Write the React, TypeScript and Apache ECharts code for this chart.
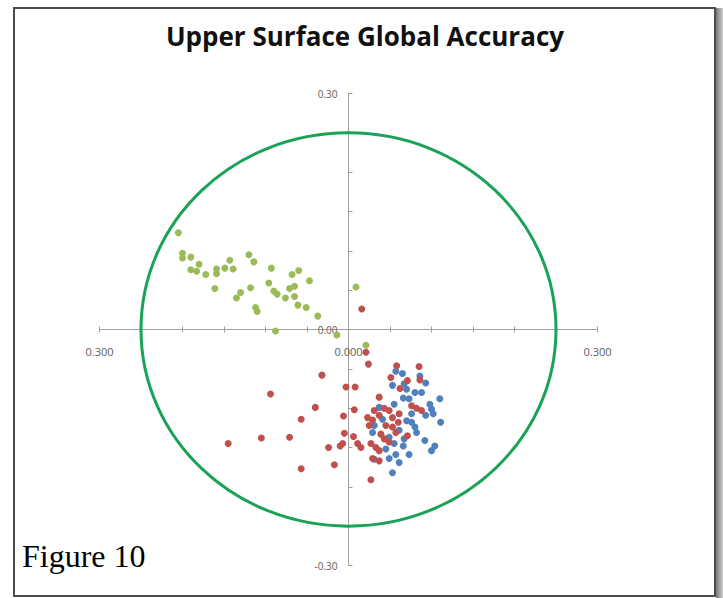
import React, { useEffect, useRef } from "react";
import * as echarts from "echarts";

const TITLE = "Upper Surface Global Accuracy";
const FIGURE_LABEL = "Figure 10";
const AXIS_MIN = -0.3;
const AXIS_MAX = 0.3;
const TICK_STEP = 0.05;
const CIRCLE_RADIUS = 0.25;
const X_LABELS: Record<string, string> = { "-0.3": "0.300", "0": "0.000", "0.3": "0.300" };
const Y_LABELS: Record<string, string> = { "-0.3": "-0.30", "0": "0.00", "0.3": "0.30" };

const blueSeries: [number, number][] = [
  [0.057, -0.053], [0.065, -0.056], [0.086, -0.059], [0.053, -0.071], [0.067, -0.069],
  [0.093, -0.068], [0.070, -0.076], [0.080, -0.080], [0.088, -0.080], [0.066, -0.087],
  [0.073, -0.088], [0.110, -0.088], [0.098, -0.095], [0.037, -0.099], [0.055, -0.095],
  [0.100, -0.101], [0.076, -0.107], [0.093, -0.109], [0.102, -0.107], [0.041, -0.114],
  [0.070, -0.116], [0.076, -0.118], [0.111, -0.118], [0.031, -0.122], [0.080, -0.124],
  [0.029, -0.131], [0.061, -0.128], [0.082, -0.131], [0.049, -0.137], [0.067, -0.139],
  [0.092, -0.141], [0.055, -0.145], [0.066, -0.148], [0.104, -0.148], [0.045, -0.152],
  [0.100, -0.154], [0.057, -0.159], [0.073, -0.159], [0.049, -0.164], [0.031, -0.165],
  [0.061, -0.169], [0.053, -0.182],
];

const redSeries: [number, number][] = [
  [-0.032, -0.058], [-0.094, -0.082], [-0.003, -0.073], [0.008, -0.073], [-0.040, -0.099],
  [-0.057, -0.114], [-0.006, -0.110], [0.007, -0.102], [-0.145, -0.145], [-0.105, -0.138],
  [-0.071, -0.137], [-0.005, -0.132], [0.006, -0.136], [-0.024, -0.150], [-0.010, -0.148],
  [-0.007, -0.145], [0.011, -0.145], [0.015, -0.150], [-0.057, -0.177], [-0.017, -0.172],
  [0.016, 0.026], [0.021, -0.029], [0.024, -0.044],
  [0.058, -0.046], [0.085, -0.047], [0.051, -0.061], [0.071, -0.065], [0.086, -0.064],
  [0.062, -0.075], [0.037, -0.086], [0.031, -0.103], [0.043, -0.100], [0.049, -0.103],
  [0.076, -0.097], [0.082, -0.100], [0.088, -0.103], [0.023, -0.112], [0.029, -0.115],
  [0.037, -0.109], [0.053, -0.112], [0.061, -0.107], [0.060, -0.118], [0.025, -0.122],
  [0.045, -0.122], [0.053, -0.124], [0.039, -0.133], [0.057, -0.131], [0.071, -0.135],
  [0.027, -0.145], [0.033, -0.150], [0.037, -0.154], [0.043, -0.139], [0.049, -0.143],
  [0.029, -0.164], [0.037, -0.167], [0.027, -0.191],
];

const greenSeries: [number, number][] = [
  [-0.205, 0.123], [-0.200, 0.097], [-0.200, 0.091], [-0.190, 0.092], [-0.180, 0.083],
  [-0.190, 0.076], [-0.183, 0.074], [-0.172, 0.070], [-0.159, 0.077], [-0.159, 0.071],
  [-0.149, 0.078], [-0.143, 0.088], [-0.139, 0.077], [-0.161, 0.052], [-0.135, 0.040],
  [-0.130, 0.047], [-0.120, 0.095], [-0.114, 0.086], [-0.118, 0.053], [-0.112, 0.028],
  [-0.110, 0.023], [-0.093, 0.078], [-0.096, 0.059], [-0.090, 0.049], [-0.086, 0.045],
  [-0.076, 0.040], [-0.088, -0.002], [-0.068, 0.070], [-0.060, 0.075], [-0.071, 0.052],
  [-0.065, 0.055], [-0.065, 0.042], [-0.061, 0.031], [-0.051, 0.028], [-0.047, 0.062],
  [-0.037, 0.017], [-0.014, -0.007], [0.009, 0.054], [0.021, -0.020],
];

const BLUE = "#4f81bd";
const RED = "#c0504d";
const GREEN = "#9bbb59";
const CIRCLE_COLOR = "#1aa257";
const AXIS_COLOR = "#a0a0a0";
const LABEL_COLOR = "#606060";
const LABEL_FONT = "'Open Sans', 'Noto Sans', sans-serif";

const GRID_LEFT = 99.5;
const GRID_RIGHT = 125.5;
const GRID_TOP = 93.5;
const GRID_BOTTOM = 32.5;
const W = 723;
const H = 598;

function fmtKey(v: number): string {
  const r = Math.round(v * 1000) / 1000;
  return String(r === 0 ? 0 : r);
}

export default function App() {
  const ref = useRef<HTMLDivElement>(null);

  useEffect(() => {
    if (!ref.current) return;
    const chart = echarts.init(ref.current, null, { renderer: "svg" });

    const gridW = W - GRID_LEFT - GRID_RIGHT;
    const gridH = H - GRID_TOP - GRID_BOTTOM;
    // offsets that bring the axes to the crossing point (value 0) of the grid
    const zeroFracX = (0 - AXIS_MIN) / (AXIS_MAX - AXIS_MIN);
    const zeroFracY = (AXIS_MAX - 0) / (AXIS_MAX - AXIS_MIN);
    const yAxisOffset = -(gridW * zeroFracX);
    const xAxisOffsetBottom = -(gridH * (1 - zeroFracY));
    const xAxisOffsetTop = -(gridH * zeroFracY);

    const baseX = {
      type: "value" as const,
      min: AXIS_MIN,
      max: AXIS_MAX,
      interval: TICK_STEP,
      splitLine: { show: false },
    };

    const scatter = (name: string, data: [number, number][], color: string) => ({
      name,
      type: "scatter" as const,
      data,
      symbol: "circle",
      symbolSize: 7,
      itemStyle: { color, opacity: 1 },
      silent: true,
    });

    chart.setOption({
      animation: false,
      backgroundColor: "#ffffff",
      grid: { left: GRID_LEFT, right: GRID_RIGHT, top: GRID_TOP, bottom: GRID_BOTTOM, containLabel: false },
      xAxis: [
        {
          ...baseX,
          position: "bottom",
          offset: xAxisOffsetBottom,
          axisLine: { show: true, onZero: false, lineStyle: { color: AXIS_COLOR, width: 1 } },
          axisTick: { show: true, inside: false, length: 3, lineStyle: { color: AXIS_COLOR } },
          axisLabel: {
            show: true,
            margin: 16,
            fontSize: 11,
            color: LABEL_COLOR,
            fontFamily: LABEL_FONT,
            formatter: (v: number) => X_LABELS[fmtKey(v)] ?? "",
          },
        },
        {
          ...baseX,
          position: "top",
          offset: xAxisOffsetTop,
          axisLine: { show: false, onZero: false },
          axisTick: { show: true, inside: false, length: 3, lineStyle: { color: AXIS_COLOR } },
          axisLabel: { show: false },
        },
      ],
      yAxis: {
        type: "value",
        min: AXIS_MIN,
        max: AXIS_MAX,
        interval: TICK_STEP,
        position: "left",
        offset: yAxisOffset,
        splitLine: { show: false },
        axisLine: { show: true, onZero: false, lineStyle: { color: AXIS_COLOR, width: 1 } },
        axisTick: { show: true, inside: true, length: 4, lineStyle: { color: AXIS_COLOR } },
        axisLabel: {
          show: true,
          margin: 11,
          fontSize: 10,
          color: LABEL_COLOR,
          fontFamily: LABEL_FONT,
          formatter: (v: number) => Y_LABELS[fmtKey(v)] ?? "",
        },
      },
      series: [
        scatter("Series 1", blueSeries, BLUE),
        scatter("Series 2", redSeries, RED),
        scatter("Series 3", greenSeries, GREEN),
      ],
    });

    const c = chart.convertToPixel({ gridIndex: 0 }, [0, 0]) as number[];
    const rx = chart.convertToPixel({ gridIndex: 0 }, [CIRCLE_RADIUS, 0]) as number[];
    const ry = chart.convertToPixel({ gridIndex: 0 }, [0, CIRCLE_RADIUS]) as number[];

    chart.setOption({
      graphic: [
        {
          type: "ellipse",
          shape: { cx: c[0], cy: c[1], rx: Math.abs(rx[0] - c[0]), ry: Math.abs(c[1] - ry[1]) },
          style: { fill: "none", stroke: CIRCLE_COLOR, lineWidth: 3 },
          z: 100,
          silent: true,
        },
        {
          type: "text",
          x: 365,
          y: 36,
          style: {
            text: TITLE,
            align: "center",
            verticalAlign: "middle",
            fontFamily: "'Open Sans', sans-serif",
            fontWeight: "bold",
            fontSize: 26,
            fill: "#111111",
          },
          z: 100,
        },
        {
          type: "text",
          x: 22,
          y: 540,
          style: {
            text: FIGURE_LABEL,
            fontFamily: "'Liberation Serif', 'DejaVu Serif', serif",
            fontSize: 32,
            fill: "#000000",
          },
          z: 100,
        },
        {
          type: "rect",
          shape: { x: 14, y: 8, width: 701, height: 588 },
          style: { fill: "none", stroke: "#4d4d4d", lineWidth: 2 },
          z: 100,
          silent: true,
        },
        {
          type: "rect",
          shape: { x: 716, y: 8, width: 7, height: 590 },
          style: {
            fill: new echarts.graphic.LinearGradient(0, 0, 1, 0, [
              { offset: 0, color: "#777777" },
              { offset: 1, color: "#d0d0d0" },
            ]),
          },
          z: 100,
          silent: true,
        },
      ],
    });

    return () => chart.dispose();
  }, []);

  return (
    <div
      ref={ref}
      style={{ position: "absolute", left: 0, top: 0, width: W, height: H, background: "#fff" }}
    />
  );
}
